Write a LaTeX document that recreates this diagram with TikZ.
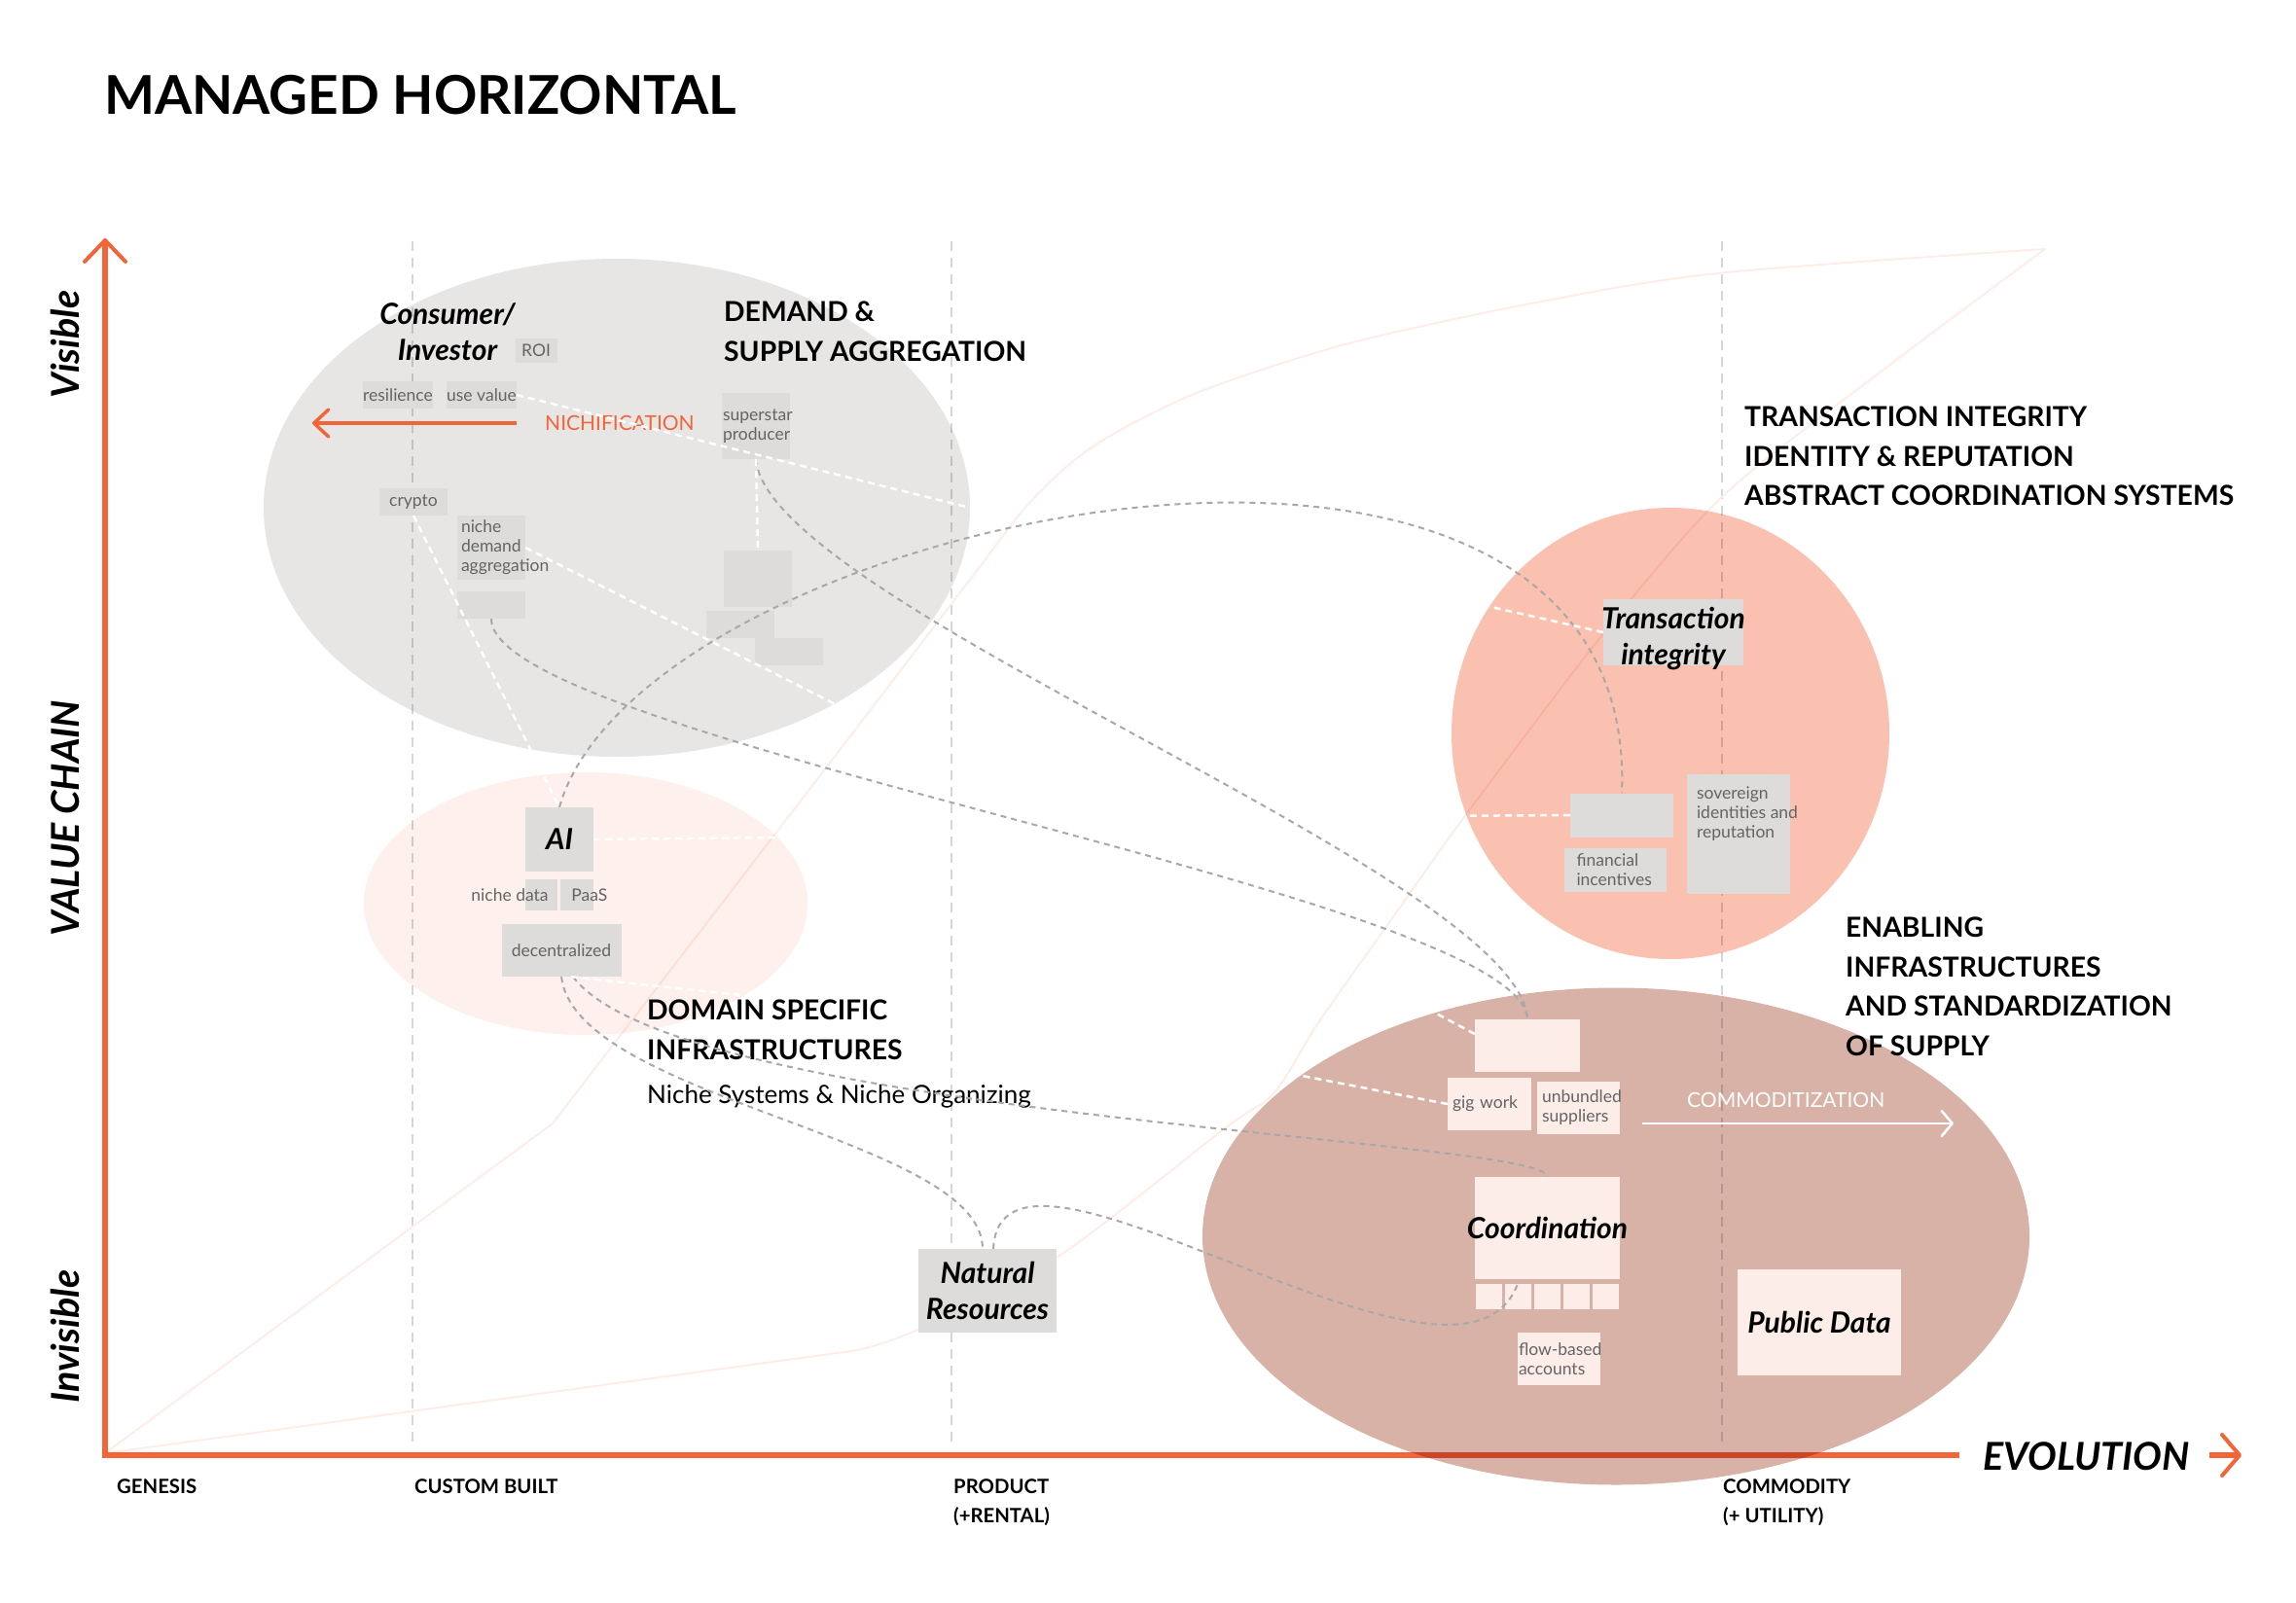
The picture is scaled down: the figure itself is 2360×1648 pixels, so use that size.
\documentclass[tikz,border=0pt]{standalone}
\usepackage{fontspec}
\setmainfont{Lato}
\usepackage{tikz}
\usetikzlibrary{arrows.meta, positioning, shapes.geometric}
\usepackage{xcolor}
\definecolor{axisorange}{RGB}{242,101,57}
\definecolor{gridgray}{RGB}{214,214,214}
\definecolor{linkgray}{RGB}{168,168,168}
\definecolor{curvepink}{RGB}{254,236,230}
\definecolor{aggrgray}{RGB}{231,230,229}
\definecolor{nichepink}{RGB}{254,240,236}
\definecolor{tipink}{RGB}{250,192,176}
\definecolor{clay}{RGB}{216,178,167}
\definecolor{boxgray}{RGB}{221,220,219}
\definecolor{boxpink}{RGB}{252,237,233}
\definecolor{tagtext}{RGB}{100,100,100}
\newcommand{\fstitle}{\fontsize{55}{60}\selectfont\bfseries}
\newcommand{\fshead}{\fontsize{28.3}{40.5}\selectfont\bfseries}
\newcommand{\fsname}{\fontsize{30}{37}\selectfont\bfseries\itshape}
\newcommand{\fstag}{\fontsize{17.5}{20}\selectfont}
\newcommand{\fsaxis}{\fontsize{20.3}{30}\selectfont\bfseries}
\newcommand{\fsbig}{\fontsize{39.5}{40}\selectfont\bfseries\itshape}
\newcommand{\fsflow}{\fontsize{21}{24}\selectfont}

\begin{document}
\begin{tikzpicture}[x=1pt, y=-1pt,
  blob/.style={ellipse, inner sep=0pt},
  tagbox/.style={fill=boxgray, inner sep=0pt, text=tagtext, font=\fstag},
  pinkbox/.style={tagbox, fill=boxpink},
  tagtxt/.style={font=\fstag, text=tagtext, inner sep=0pt},
  bigname/.style={inner sep=0pt, font=\fsname, text=black, align=center},
  headtext/.style={inner sep=0pt, font=\fshead, align=left, anchor=north west},
  axislbl/.style={inner sep=0pt, font=\fsaxis, align=left, anchor=north west},
  evogrid/.style={gridgray, line width=2pt, dash pattern=on 10pt off 7pt},
  dlink/.style={linkgray, line width=2pt, dash pattern=on 6pt off 5pt},
  wlink/.style={white, line width=2.5pt, dash pattern=on 7pt off 5pt},
  axisline/.style={axisorange, line width=6pt},
  evocurve/.style={curvepink, line width=1.8pt}]

    \fill[white] (0,0) rectangle (2360,1648);
    \useasboundingbox (0,0) rectangle (2360,1648);

    % Title
    \node[inner sep=0pt, anchor=north west, font=\fstitle] (title) at (107,77) {MANAGED HORIZONTAL};

    % Evolution stages
    \foreach \gx in {424,978,1770}
        \draw[evogrid] (\gx,248) -- (\gx,1488);
    \draw[evocurve] (108,1494) -- (568,1155) -- (887,740) plot[smooth, tension=0.5] coordinates {(887,740) (1000,592) (1060,515) (1125,458) (1230,404) (1383,354) (1574,312) (1765,281) (2102,256)};
    \draw[evocurve] plot[smooth, tension=0.5] coordinates {(2102,256) (1936,380) (1772,509) (1650,649) (1505,840) (1434,940) (1356,1050) (1310,1123) (1259,1160) (1086,1293) (943,1367) (882,1388)} -- (108,1494);

    % Axes
    \coordinate (origin) at (108,1496);
    \coordinate (ytop) at (108,245);
    \coordinate (xend) at (2014,1496);
    \draw[axisline, {Straight Barb[length=22pt, width=42pt, line width=4pt, round]}-] (ytop) -- (origin) -- (xend);

    % Clusters
    \begin{scope}[blend mode=multiply]
        \node[blob, fill=aggrgray, minimum width=726pt, minimum height=512pt] (dsa) at (634,522) {};
        \node[blob, fill=nichepink, minimum width=456pt, minimum height=270pt] (dsi) at (602,929) {};
        \node[blob, fill=tipink, minimum width=450pt, minimum height=464pt] (tig) at (1717,754) {};
        \node[blob, fill=clay, minimum width=850pt, minimum height=511pt] (eis) at (1661,1271) {};
    \end{scope}

    % Demand & supply aggregation
    \node[bigname, anchor=north] (consumer) at (460,311) {Consumer/\\Investor};
    \node[tagbox, minimum width=43pt, minimum height=25pt] (roi) at (551,360) {ROI};
    \node[tagbox, minimum width=70pt, minimum height=28pt] (resilience) at (409,406) {resilience};
    \node[tagbox, minimum width=70pt, minimum height=28pt] (usevalue) at (495,406) {use value};
    \node[tagbox, minimum width=70pt, minimum height=68pt, text width=68pt, inner xsep=1pt, align=left] (superstar) at (777,438) {superstar\\producer};
    \node[tagbox, minimum width=70pt, minimum height=28pt] (crypto) at (425,516) {crypto};
    \node[tagbox, minimum width=70pt, minimum height=66pt, text width=62pt, inner xsep=4pt, align=left] (nichedemand) at (505,563) {niche\\demand\\aggregation};
    \node[tagbox, minimum width=70pt, minimum height=28pt] (blank1) at (505,622) {};
    \node[tagbox, minimum width=70pt, minimum height=58pt] (blank2) at (779,595) {};
    \node[tagbox, minimum width=70pt, minimum height=28pt] (blank3) at (761,642) {};
    \node[tagbox, minimum width=70pt, minimum height=28pt] (blank4) at (811,670) {};
    \node[headtext] (demand) at (744,310) {DEMAND \&\\SUPPLY AGGREGATION};
    \node[inner sep=0pt, anchor=north west, font=\fsflow, text=axisorange] (nichelbl) at (560,427) {NICHIFICATION};
    \coordinate (nichestart) at (531,435);
    \coordinate (nicheend) at (321,435);
    \draw[axisorange, line width=3.5pt, -{Straight Barb[length=15pt, width=28pt, round]}] (nichestart) -- (nicheend);

    % Domain specific infrastructures
    \node[tagbox, minimum width=70pt, minimum height=66pt, font=\fsname, text=black] (ai) at (575,863) {AI};
    \node[tagbox, minimum width=33pt, minimum height=32pt, label={[tagtxt, anchor=east, xshift=24pt]west:niche data}] (nichedata) at (556.5,920) {};
    \node[tagbox, minimum width=34pt, minimum height=32pt, right=3pt of nichedata, label={[tagtxt, anchor=west, xshift=11pt]west:PaaS}] (paas) {};
    \node[tagbox, minimum width=123pt, minimum height=54pt] (decentral) at (577,977) {decentralized};
    \node[headtext] (domain) at (665,1028) {DOMAIN SPECIFIC\\INFRASTRUCTURES\\[5pt]{\fontsize{26}{30}\selectfont\mdseries Niche Systems \& Niche Organizing}};
    \node[tagbox, minimum width=142pt, minimum height=86pt, font=\fsname, text=black, align=center] (natres) at (1015,1327) {Natural\\Resources};

    % Transaction integrity
    \node[headtext] (txhead) at (1793,418) {TRANSACTION INTEGRITY\\IDENTITY \& REPUTATION\\ABSTRACT COORDINATION SYSTEMS};
    \node[tagbox, minimum width=144pt, minimum height=68pt, label={[bigname, yshift=-7pt]center:{Transaction\\integrity}}] (txint) at (1720,650) {};
    \node[tagbox, minimum width=106pt, minimum height=45pt] (blank5) at (1667,838) {};
    \node[tagbox, minimum width=105pt, minimum height=45pt, text width=79pt, inner xsep=13pt, align=left] (financial) at (1660,894) {financial\\incentives};
    \node[tagbox, minimum width=106pt, minimum height=123pt, label={[tagtxt, anchor=north west, align=left, xshift=10pt, yshift=-13pt]north west:{sovereign\\identities and\\reputation}}] (sovereign) at (1787,857) {};

    % Enabling infrastructures
    \node[headtext] (enabling) at (1897,943) {ENABLING\\INFRASTRUCTURES\\AND STANDARDIZATION\\OF SUPPLY};
    \node[pinkbox, minimum width=108pt, minimum height=54pt] (blank6) at (1570,1075) {};
    \node[pinkbox, minimum width=86pt, minimum height=54pt, text width=76pt, inner xsep=5pt, align=left] (gigwork) at (1531,1135) {gig work};
    \node[pinkbox, minimum width=85pt, minimum height=54pt, text width=75pt, inner xsep=5pt, align=left] (unbundled) at (1622.5,1139) {unbundled\\suppliers};
    \node[pinkbox, minimum width=149pt, minimum height=105pt, font=\fsname, text=black, inner xsep=-10pt] (coord) at (1590.5,1262.5) {Coordination};
    \foreach \i in {1,...,5}
        \node[pinkbox, minimum width=27pt, minimum height=26pt] (sb\i) at ({1500+30*\i},1333) {};
    \node[pinkbox, minimum width=85pt, minimum height=54pt, text width=83pt, inner xsep=1pt, align=left] (flow) at (1602.5,1397) {\mbox{flow-based}\\accounts};
    \node[pinkbox, minimum width=168pt, minimum height=109pt, font=\fsname, text=black] (pubdata) at (1870,1359.5) {Public Data};
    \node[inner sep=0pt, anchor=north west, font=\fsflow, text=white] (commlbl) at (1734,1123) {COMMODITIZATION};
    \coordinate (commstart) at (1688,1155);
    \coordinate (commend) at (2008,1155);
    \draw[white, line width=2.5pt, -{Straight Barb[length=11pt, width=26pt, round]}] (commstart) -- (commend);

    % Links
    \draw[dlink] (superstar.south) .. controls +(12,148) and +(-8,-148) .. (blank6.north);
    \draw[dlink] (blank1.south) .. controls +(0,124) and +(-5,-128) .. (blank6.north);
    \draw[dlink] (ai.north) .. controls +(85,-300) and +(20,-500) .. (blank5.north);
    \draw[dlink] (decentral.south) .. controls +(15,126) and +(0,-114) .. ([xshift=-5pt]natres.north);
    \draw[dlink] ([xshift=12pt]decentral.south) .. controls +(110,146) and +(0,-40) .. (coord.north);
    \draw[dlink] ([xshift=6pt]natres.north) .. controls +(8,-164) and +(-60,160) .. (sb2.north);
    \draw[wlink] (usevalue.east) -- (dsa.east);
    \draw[wlink] (crypto.south) -- (ai.north);
    \draw[wlink] (nichedemand.east) -- (dsa.-42);
    \draw[wlink] (superstar.south) -- (blank2.north);
    \draw[wlink] (ai.east) -- (dsi.19);
    \draw[wlink] ([xshift=10pt]decentral.south) -- (dsi.-30);
    \draw[wlink] (txint.west) -- (tig.145);
    \draw[wlink] (blank5.west) -- (tig.202);
    \draw[wlink] ([yshift=12pt]blank6.west) -- (eis.129);
    \draw[wlink] (gigwork.west) -- (eis.153);

    % Axis labels
    \node[font=\fsbig, rotate=90, inner sep=0pt] (visible) at (67,354) {Visible};
    \node[font=\fsbig, rotate=90, inner sep=0pt] (valuechain) at (67,841) {VALUE CHAIN};
    \node[font=\fsbig, rotate=90, inner sep=0pt] (invisible) at (67,1374) {Invisible};
    \node[inner sep=0pt, anchor=west, font=\fsbig] (evolution) at (2038,1497) {EVOLUTION};
    \coordinate (evostart) at (2271,1496);
    \coordinate (evoend) at (2304,1496);
    \draw[axisline, -{Straight Barb[length=18pt, width=42pt, line width=4pt, round]}] (evostart) -- (evoend);
    \node[axislbl] (genesis) at (120,1520) {GENESIS};
    \node[axislbl] (custom) at (426,1520) {CUSTOM BUILT};
    \node[axislbl] (product) at (980,1520) {PRODUCT\\(+RENTAL)};
    \node[axislbl] (commodity) at (1771,1520) {COMMODITY\\(+ UTILITY)};
\end{tikzpicture}
\end{document}
